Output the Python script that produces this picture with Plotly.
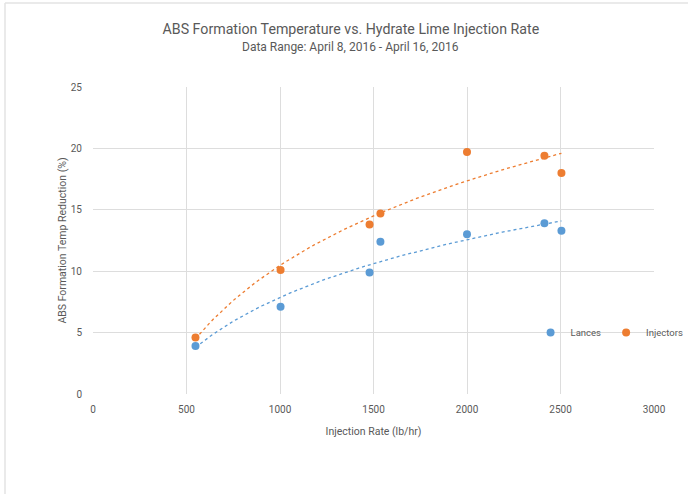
import numpy as np
import plotly.graph_objects as go

lances_x = [548, 1003, 1479, 1537, 2000, 2414, 2505]
lances_y = [3.9, 7.1, 9.9, 12.4, 13.0, 13.9, 13.3]
injectors_x = [548, 1003, 1479, 1537, 2000, 2414, 2505]
injectors_y = [4.6, 10.1, 13.8, 14.7, 19.7, 19.4, 18.0]

blue = "#5B9BD5"
orange = "#ED7D31"
font_family = "Roboto, sans-serif"
gray = "#595959"

fig = go.Figure()


def log_trend(xs, ys):
    a, b = np.polyfit(np.log(xs), ys, 1)
    tx = np.linspace(min(xs), max(xs), 100)
    return tx, a * np.log(tx) + b


for name, xs, ys, col in [("Lances", lances_x, lances_y, blue),
                          ("Injectors", injectors_x, injectors_y, orange)]:
    tx, ty = log_trend(xs, ys)
    fig.add_trace(go.Scatter(x=tx, y=ty, mode="lines", showlegend=False,
                             line=dict(color=col, width=1.3, dash="dot"),
                             hoverinfo="skip"))

fig.add_trace(go.Scatter(x=lances_x, y=lances_y, mode="markers", name="Lances",
                         marker=dict(color=blue, size=8)))
fig.add_trace(go.Scatter(x=injectors_x, y=injectors_y, mode="markers", name="Injectors",
                         marker=dict(color=orange, size=8)))

fig.update_layout(
    width=688, height=494,
    margin=dict(l=93, r=34, t=87, b=100, autoexpand=False),
    paper_bgcolor="white", plot_bgcolor="white",
    font=dict(family=font_family, color=gray, size=10),
    title=dict(
        text="ABS Formation Temperature vs. Hydrate Lime Injection Rate",
        x=0.51, xanchor="center", y=1 - 29 / 494, yanchor="middle",
        font=dict(family=font_family, size=14.2, color=gray)),
    annotations=[dict(text="Data Range: April 8, 2016 - April 16, 2016",
                      xref="paper", yref="paper", x=(350 - 93) / 561, y=(394 - 47) / 307,
                      xanchor="center", yanchor="middle", showarrow=False,
                      font=dict(family=font_family, size=12, color=gray))],
    legend=dict(orientation="h", x=0.78, y=0.2, xanchor="left", yanchor="middle",
                font=dict(size=9.5, color=gray), itemwidth=30,
                bgcolor="rgba(0,0,0,0)"),
    xaxis=dict(range=[0, 3000], tickvals=[0, 500, 1000, 1500, 2000, 2500, 3000],
               showgrid=True, gridcolor="#DDDDDD", gridwidth=1, zeroline=False,
               showline=False, ticks="", ticklabelstandoff=8,
               title=dict(text="Injection Rate (lb/hr)", font=dict(size=10.5, color=gray), standoff=13),
               tickfont=dict(size=10, color=gray)),
    yaxis=dict(range=[0, 25], tickvals=[0, 5, 10, 15, 20, 25],
               showgrid=True, gridcolor="#DDDDDD", gridwidth=1, zeroline=False,
               showline=False, ticks="", ticklabelstandoff=10,
               title=dict(text="ABS Formation Temp Reduction (%)", font=dict(size=10.5, color=gray), standoff=2),
               tickfont=dict(size=10, color=gray)),
)

# outer chart-area border (left and top)
fig.add_shape(type="line", xref="paper", yref="paper",
              x0=-88 / 561, x1=-88 / 561, y0=-100 / 307, y1=(307 + 84) / 307,
              line=dict(color="#E3E3E3", width=1.5))
fig.add_shape(type="line", xref="paper", yref="paper",
              x0=-88 / 561, x1=(561 + 34) / 561, y0=(307 + 84) / 307, y1=(307 + 84) / 307,
              line=dict(color="#E3E3E3", width=1.5))

fig.write_html("out.html")
